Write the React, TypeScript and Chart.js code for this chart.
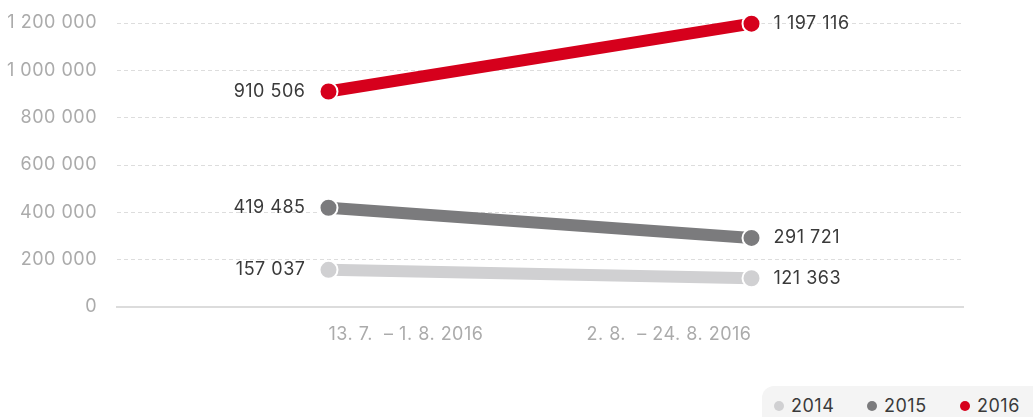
import React, { useEffect, useRef } from "react";
import { Chart, registerables } from "chart.js";

Chart.register(...registerables);

const categories = ["13. 7.  – 1. 8. 2016", "2. 8.  – 24. 8. 2016"];
const seriesNames = ["2014", "2015", "2016"];
const values2014 = [157037, 121363];
const values2015 = [419485, 291721];
const values2016 = [910506, 1197116];
const seriesColors = ["#d0d0d2", "#7b7b7d", "#d6001c"];
const yTicks = [0, 200000, 400000, 600000, 800000, 1000000, 1200000];

const FONT = "Inter, 'Open Sans', sans-serif";
const FONT_SIZE = 18;
const LETTER_SPACING = "0.5px";

const fmt = (v: number) =>
  String(Math.round(v)).replace(/\B(?=(\d{3})+(?!\d))/g, " ");

const spacingPlugin = {
  id: "letterSpacing",
  beforeUpdate(chart: any) {
    chart.ctx.letterSpacing = LETTER_SPACING;
  },
  beforeDraw(chart: any) {
    chart.ctx.letterSpacing = LETTER_SPACING;
  },
};

const labelPlugin = {
  id: "valueLabels",
  afterDatasetsDraw(chart: any) {
    const ctx = chart.ctx;
    ctx.save();
    ctx.letterSpacing = LETTER_SPACING;
    ctx.font = `${FONT_SIZE}px ${FONT}`;
    ctx.fillStyle = "#3a3a3a";
    ctx.textBaseline = "middle";
    chart.data.datasets.forEach((ds: any, di: number) => {
      const meta = chart.getDatasetMeta(di);
      meta.data.forEach((pt: any, i: number) => {
        const v = ds.data[i];
        if (i === 0) {
          ctx.textAlign = "right";
          ctx.fillText(fmt(v), pt.x - 23, pt.y);
        } else {
          ctx.textAlign = "left";
          ctx.fillText(fmt(v), pt.x + 22, pt.y);
        }
      });
    });
    ctx.restore();
  },
};

export default function App() {
  const ref = useRef<HTMLCanvasElement>(null);
  useEffect(() => {
    if (!ref.current) return;
    const dataSets = [values2014, values2015, values2016];
    const chart = new Chart(ref.current, {
      type: "line",
      data: {
        labels: categories,
        datasets: seriesNames.map((n, i) => ({
          label: n,
          data: dataSets[i],
          borderColor: seriesColors[i],
          backgroundColor: seriesColors[i],
          pointBackgroundColor: seriesColors[i],
          pointBorderColor: "#ffffff",
          pointBorderWidth: 2,
          pointRadius: 9,
          borderWidth: 12,
          fill: false,
          tension: 0,
          clip: false as any,
        })),
      },
      options: {
        responsive: false,
        animation: false,
        layout: { padding: { left: 0, right: 70, top: 23, bottom: 0 } },
        plugins: {
          legend: { display: false },
          tooltip: { enabled: false },
        },
        scales: {
          x: {
            offset: true,
            grid: { display: false, drawTicks: false },
            border: { display: true, color: "#dcdcdc", width: 2 },
            ticks: {
              color: "#ababab",
              font: { family: FONT, size: FONT_SIZE },
              padding: 17,
              maxRotation: 0,
              align: "inner" as any,
            },
            afterFit: (s: any) => {
              s.height = 110;
            },
          },
          y: {
            min: 0,
            max: 1200000,
            afterBuildTicks: (s: any) => {
              s.ticks = yTicks.map((v) => ({ value: v }));
            },
            grid: {
              color: "#dddddd",
              lineWidth: 1,
              drawTicks: true,
              tickLength: 17,
              tickColor: "rgba(0,0,0,0)",
            },
            border: { display: false, dash: [4, 3] },
            ticks: {
              color: "#ababab",
              font: { family: FONT, size: FONT_SIZE },
              padding: 3,
              callback: (v: any) => fmt(Number(v)),
            },
            afterFit: (s: any) => {
              s.width = 117;
            },
          },
        },
      },
      plugins: [spacingPlugin, labelPlugin],
    });
    return () => chart.destroy();
  }, []);

  return (
    <div
      style={{
        position: "absolute",
        left: 0,
        top: 0,
        width: 1033,
        height: 417,
        overflow: "hidden",
        background: "#fff",
      }}
    >
      <canvas ref={ref} width={1033} height={417} style={{ width: 1033, height: 417, display: "block" }} />
      <div
        style={{
          position: "absolute",
          left: 762,
          top: 386,
          width: 300,
          height: 50,
          borderRadius: 12,
          background: "#f4f4f4",
          fontFamily: FONT,
          fontSize: FONT_SIZE,
          letterSpacing: LETTER_SPACING,
          color: "#3a3a3a",
        }}
      >
        {seriesNames.map((n, i) => (
          <span
            key={n}
            style={{
              position: "absolute",
              left: 12 + i * 93,
              top: 10,
              display: "flex",
              alignItems: "center",
              lineHeight: "20px",
            }}
          >
            <span
              style={{
                width: 10,
                height: 10,
                borderRadius: 5,
                background: seriesColors[i],
                display: "inline-block",
                marginRight: 7,
              }}
            />
            {n}
          </span>
        ))}
      </div>
    </div>
  );
}
